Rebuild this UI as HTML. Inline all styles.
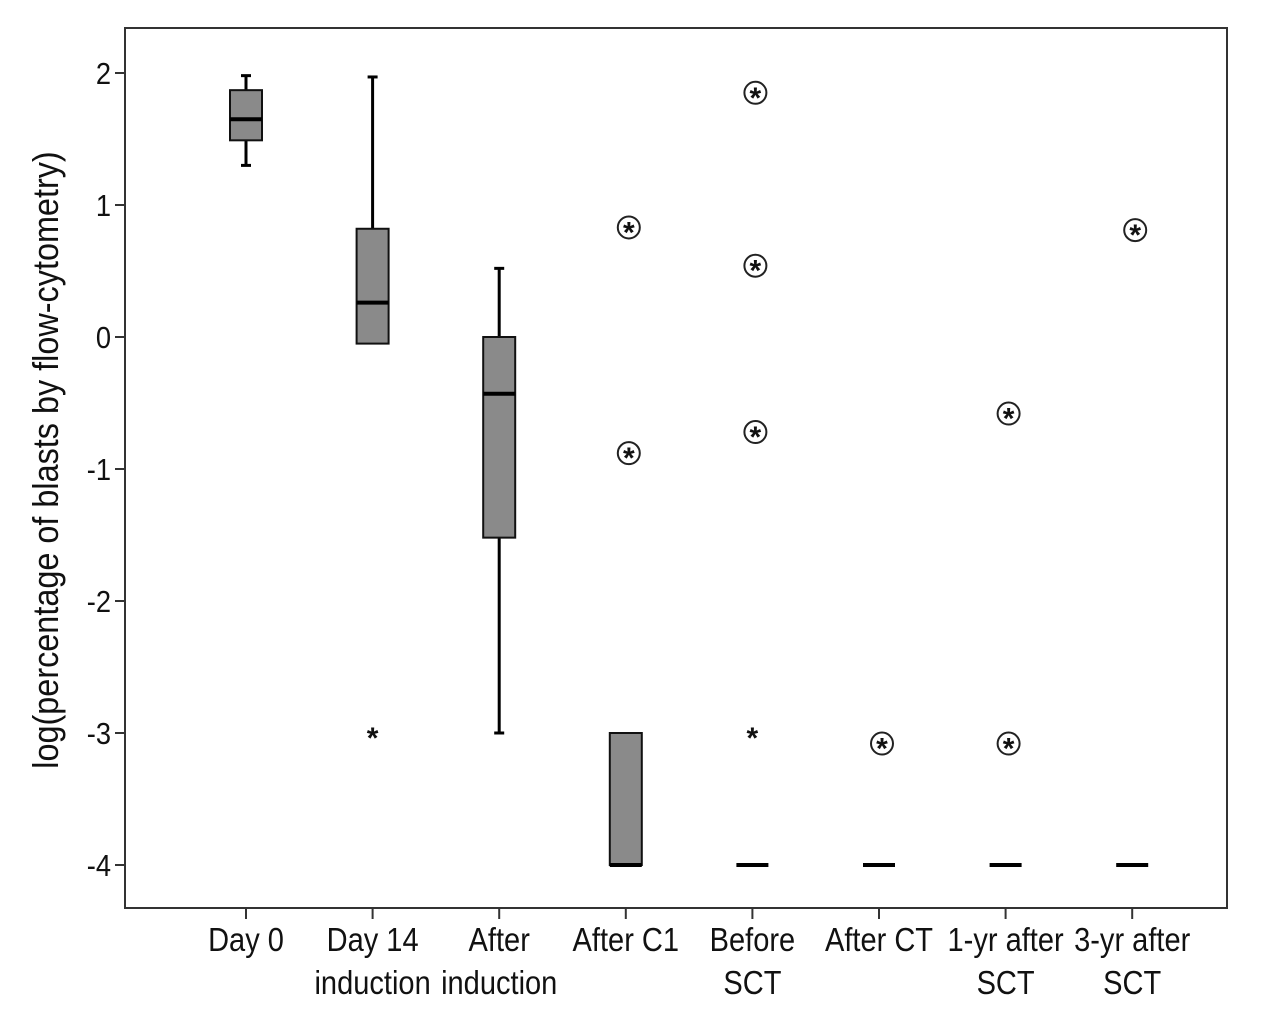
<!DOCTYPE html>
<html><head><meta charset="utf-8"><style>
body{margin:0;background:#fff;}
svg text{font-family:"Liberation Sans",sans-serif;fill:#111;}
</style></head><body>
<svg id="chart" width="1280" height="1017" xmlns="http://www.w3.org/2000/svg">
<rect x="125" y="28" width="1102" height="880" fill="none" stroke="#333" stroke-width="2"/>
<g id="yax"></g>
<g id="xax"></g>
<g id="boxes"></g>
<g id="outs"></g>
<text transform="translate(58,460) rotate(-90) scale(0.9,1)" text-anchor="middle" font-size="36">log(percentage of blasts by flow-cytometry)</text>
</svg>
<script>
const categories=[["Day 0"],["Day 14","induction"],["After","induction"],["After C1"],["Before","SCT"],["After CT"],["1-yr after","SCT"],["3-yr after","SCT"]];
const mins=[1.3,-0.05,-3,-4,-4,-4,-4,-4];
const q1s=[1.49,-0.05,-1.52,-4,-4,-4,-4,-4];
const medians=[1.65,0.26,-0.43,-4,-4,-4,-4,-4];
const q3s=[1.87,0.82,0,-3,-4,-4,-4,-4];
const maxs=[1.98,1.97,0.52,-3,-4,-4,-4,-4];
const outCat=[1,3,3,4,4,4,4,5,6,6,7];
const outVal=[-3,0.83,-0.88,1.85,0.54,-0.72,-3,-3.08,-0.58,-3.08,0.81];
const outCircled=[0,1,1,1,1,1,0,1,1,1,1];
const yTicks=[2,1,0,-1,-2,-3,-4];
const NS="http://www.w3.org/2000/svg";
const y=v=>337-v*132;
const x=i=>246+i*126.6;
function mk(p,t,a){const e=document.createElementNS(NS,t);for(const k in a)e.setAttribute(k,a[k]);p.appendChild(e);return e;}
const yax=document.getElementById('yax'),xax=document.getElementById('xax'),bx=document.getElementById('boxes'),os=document.getElementById('outs');
yTicks.forEach(v=>{
 const l=mk(yax,'line',{x1:115,x2:125,y1:y(v),y2:y(v),stroke:'#333','stroke-width':2});
 
 
 const t=mk(yax,'text',{transform:`translate(111,${y(v)+11}) scale(0.88,1)`,'text-anchor':'end','font-size':31});
 t.textContent=v;
 
 
});
categories.forEach((c,i)=>{
 const l=mk(xax,'line',{x1:x(i),x2:x(i),y1:908,y2:919,stroke:'#333','stroke-width':2});
 
 
 c.forEach((s,j)=>{
  const t=mk(xax,'text',{transform:`translate(${x(i)},${951+j*43}) scale(0.88,1)`,'text-anchor':'middle','font-size':33});
  t.textContent=s;
  
  
 });
 const g=mk(bx,'g',{});
 
 
 const cx=x(i),w=32;
 if(maxs[i]>q3s[i]){mk(g,'line',{x1:cx,x2:cx,y1:y(maxs[i]),y2:y(q3s[i]),stroke:'#000','stroke-width':3});mk(g,'line',{x1:cx-5,x2:cx+5,y1:y(maxs[i]),y2:y(maxs[i]),stroke:'#000','stroke-width':3});}
 if(mins[i]<q1s[i]){mk(g,'line',{x1:cx,x2:cx,y1:y(q1s[i]),y2:y(mins[i]),stroke:'#000','stroke-width':3});mk(g,'line',{x1:cx-5,x2:cx+5,y1:y(mins[i]),y2:y(mins[i]),stroke:'#000','stroke-width':3});}
 if(q3s[i]>q1s[i]) mk(g,'rect',{x:cx-w/2,y:y(q3s[i]),width:w,height:y(q1s[i])-y(q3s[i]),fill:'#8a8a8a',stroke:'#111','stroke-width':2});
 mk(g,'line',{x1:cx-w/2,x2:cx+w/2,y1:y(medians[i]),y2:y(medians[i]),stroke:'#000','stroke-width':4});
});
outVal.forEach((v,k)=>{
 const cx=x(outCat[k])+(outCircled[k]?3:0),cy=y(v);
 const g=mk(os,'g',{});
 
 
 if(outCircled[k]) mk(g,'circle',{cx:cx,cy:cy,r:11,fill:'none',stroke:'#222','stroke-width':2});
 const t=mk(g,'text',{x:cx,y:cy+15,'text-anchor':'middle','font-size':30,'font-weight':'bold','font-family':'DejaVu Sans'});
 t.textContent='*';
});
</script>
</body></html>
